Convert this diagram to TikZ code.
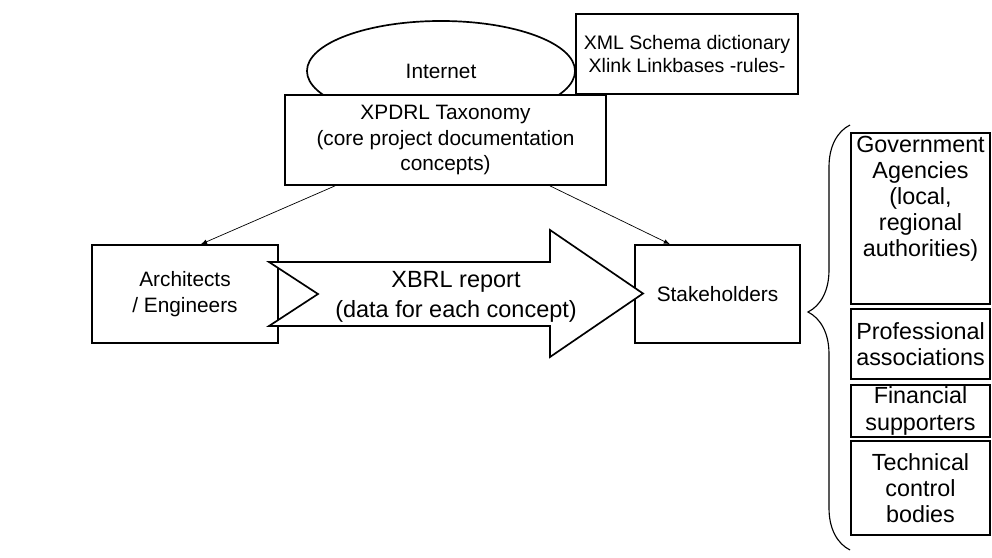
\documentclass[tikz,border=0pt]{standalone}
\usepackage{fontspec}
\setmainfont{Liberation Sans}
\usepackage{tikz}
\usetikzlibrary{shapes.geometric}
\usetikzlibrary{decorations.pathreplacing}
\usetikzlibrary{arrows}

\tikzset{
	box/.style={rectangle, draw, line width=1.2pt, fill=white, align=center, inner sep=0pt, font=\fontsize{14.8}{18}\selectfont},
	sidebox/.style={box, minimum width=3.475cm, font=\fontsize{16.6}{18.6}\selectfont},
	feed/.style={-latex, line width=0.5pt},
}

\begin{document}
\begin{tikzpicture}[x=0.025cm, y=-0.025cm]
	\useasboundingbox (0,0) rectangle (992,558);

	% top: internet, dictionary and taxonomy
	\node (inet) [ellipse, draw, line width=1.2pt, minimum width=6.7cm, minimum height=2.5cm, inner sep=0pt, font=\fontsize{14.8}{18}\selectfont] at (441,71) {Internet};
	\node (xml) [box, minimum width=5.55cm, minimum height=2cm, font=\fontsize{13.9}{17}\selectfont] at (687,54) {XML Schema dictionary\\Xlink Linkbases -rules-};
	\node (tax) [box, minimum width=8.025cm, minimum height=2.25cm] at (445.5,140) {XPDRL Taxonomy\\(core project documentation\\concepts)};

	% the two parties
	\node (arch) [box, minimum width=4.65cm, minimum height=2.45cm] at (185,294) {Architects\\/ Engineers};
	\node (stake) [box, minimum width=4.125cm, minimum height=2.45cm] at (717.5,294) {Stakeholders};

	\draw [feed] ([xshift=-2.76cm]tax.south) -- ([xshift=0.4cm]arch.north);
	\draw [feed] ([xshift=2.61cm]tax.south) -- ([xshift=-1.19cm]stake.north);

	% big report arrow
	\filldraw [fill=white, line width=1.2pt, line join=miter] (269,262) -- (550,262) -- (550,230) -- (643,293.5) -- (550,357) -- (550,326) -- (269,326) -- (318,294) -- cycle;
	\node (xbrl) [align=center, inner sep=0pt, font=\fontsize{16.7}{21.3}\selectfont] at (456,297) {XBRL report\\(data for each concept)};

	% stakeholder groups
	\node (gov) [sidebox, minimum height=4.275cm] at (920.5,218.5) {};
	\node (govtext) [anchor=north, align=center, inner sep=0pt, font=\fontsize{16.6}{18.6}\selectfont] at ([yshift=-2.5pt]gov.north) {Government\\Agencies\\(local,\\regional\\authorities)};

	\foreach \n/\y/\h/\t in {prof/344/1.75/{Professional\\associations}, fin/411/1.3/{Financial\\supporters}, tech/488/2.35/{Technical\\control\\bodies}} {
		\node (\n) [sidebox, minimum height=\h cm] at (920.5,\y) {\t};
	}

	\coordinate (b1) at (850,550);
	\coordinate (b2) at (850,125);
	\draw [line width=0.8pt, decorate, decoration={brace, amplitude=1.05cm, aspect=0.56}] (b1) -- (b2);

\end{tikzpicture}
\end{document}
